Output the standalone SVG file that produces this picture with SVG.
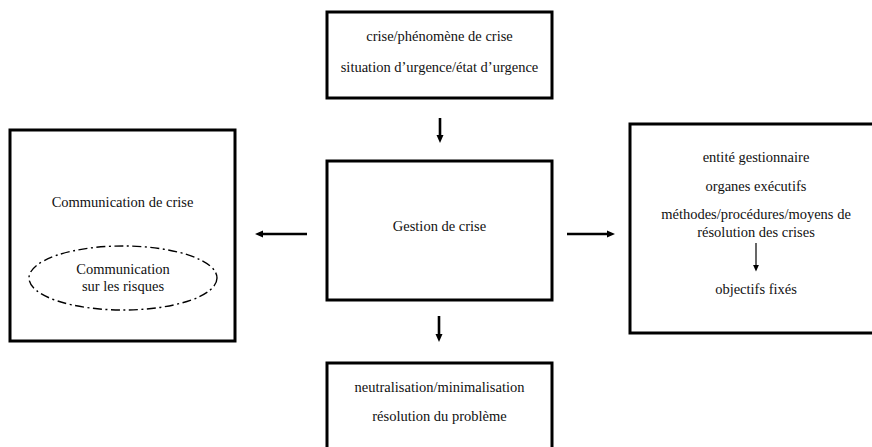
<svg xmlns="http://www.w3.org/2000/svg" width="872" height="447" viewBox="0 0 872 447">
<style>
.box{fill:#fff;stroke:#000;stroke-width:3}
.t{font-family:"Liberation Serif","Times New Roman",Times,"DejaVu Serif",serif;font-size:14.5px;fill:#111;text-anchor:middle}
.arr{stroke:#000;stroke-width:2.6;fill:none}
.thin{stroke:#000;stroke-width:1.2;fill:none}
</style>
<defs>
<marker id="ah" markerWidth="4" markerHeight="4" refX="0.5" refY="2" orient="auto" markerUnits="strokeWidth">
<path d="M0,0.6 L3.2,2 L0,3.4 Z" fill="#000"/>
</marker>
<marker id="ahs" markerWidth="8" markerHeight="8" refX="1" refY="3" orient="auto" markerUnits="strokeWidth">
<path d="M0,0.5 L5.5,3 L0,5.5 Z" fill="#000"/>
</marker>
</defs>
<rect width="872" height="447" fill="#fff"/>
<g id="top">
<rect class="box" x="327" y="12" width="225" height="86"/>
<text class="t" x="439.5" y="41">crise/phénomène de crise</text>
<text class="t" x="439.5" y="72">situation d’urgence/état d’urgence</text>
</g>
<g id="center">
<rect class="box" x="327" y="161" width="225" height="139"/>
<text class="t" x="439.5" y="231">Gestion de crise</text>
</g>
<g id="left">
<rect class="box" x="10" y="130" width="225" height="211"/>
<text class="t" x="122.5" y="207">Communication de crise</text>
<ellipse cx="123" cy="278" rx="94" ry="32" fill="none" stroke="#000" stroke-width="1.4" stroke-dasharray="9 3.5 2 3.5"/>
<text class="t" x="123" y="274">Communication</text>
<text class="t" x="123" y="291">sur les risques</text>
</g>
<g id="right">
<rect class="box" x="630" y="124" width="250" height="209"/>
<text class="t" x="756" y="162">entité gestionnaire</text>
<text class="t" x="756" y="191">organes exécutifs</text>
<text class="t" x="756" y="219">méthodes/procédures/moyens de</text>
<text class="t" x="756" y="237">résolution des crises</text>
<text class="t" x="756" y="294">objectifs fixés</text>
<line class="thin" x1="756" y1="243" x2="756" y2="266" marker-end="url(#ahs)"/>
</g>
<g id="bottom">
<rect class="box" x="327" y="363" width="225" height="100"/>
<text class="t" x="439.5" y="392">neutralisation/minimalisation</text>
<text class="t" x="439.5" y="421">résolution du problème</text>
</g>
<g id="connectors">
<line class="arr" x1="440" y1="118" x2="440" y2="136" marker-end="url(#ah)"/>
<line class="arr" x1="307" y1="234" x2="262" y2="234" marker-end="url(#ah)"/>
<line class="arr" x1="567" y1="234" x2="608" y2="234" marker-end="url(#ah)"/>
<line class="arr" x1="439" y1="316" x2="439" y2="335" marker-end="url(#ah)"/>
</g>
</svg>
